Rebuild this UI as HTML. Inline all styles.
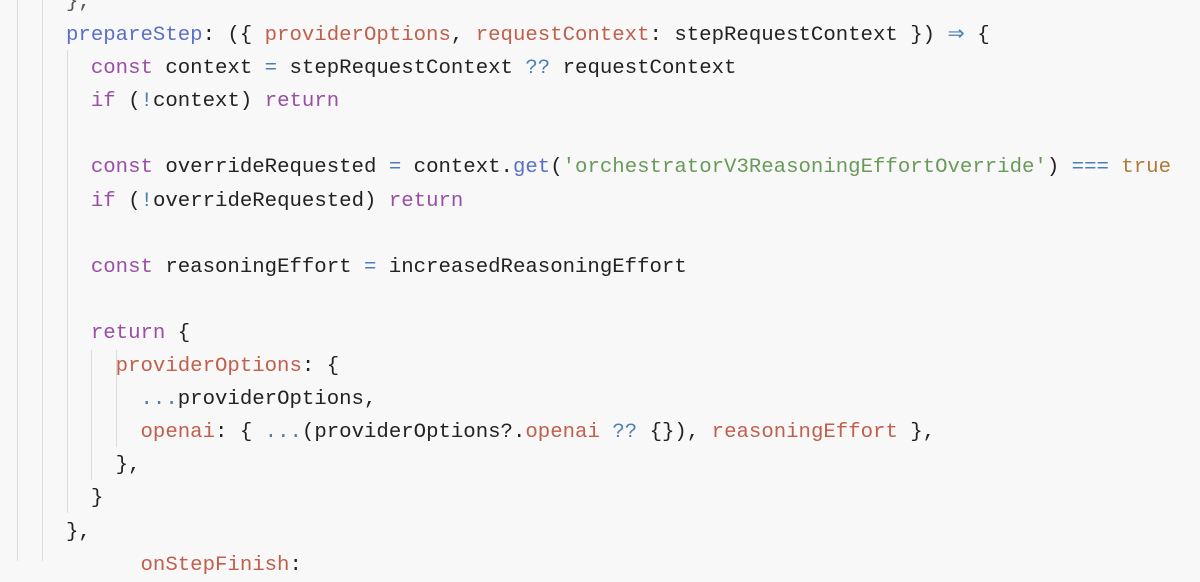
<!DOCTYPE html>
<html><head><meta charset="utf-8"><style>
html,body{margin:0;padding:0;}
body{width:1200px;height:561px;overflow:hidden;background:#f8f8f8;position:relative;}
.g{position:absolute;width:1px;background:#dcdcdc;}
pre{position:absolute;left:66px;top:-14px;margin:0;font-family:"Liberation Mono",monospace;font-size:20.7px;line-height:33.1px;color:#222;white-space:pre;}
.k{color:#5a70c8}.r{color:#c0604c}.p{color:#9a4fa6}.o{color:#4a7fb5}.s{color:#6a9a5a}.t{color:#b07a38}.d{color:#555}
</style></head><body>
<div class="g" style="left:17px;top:0;height:561px"></div>
<div class="g" style="left:42px;top:0;height:561px"></div>
<div class="g" style="left:67px;top:50px;height:463px"></div>
<div class="g" style="left:91px;top:350px;height:130px"></div>
<div class="g" style="left:116px;top:350px;height:97px"></div>
<pre><span class="d">},</span>
<span class="k">prepareStep</span>: ({ <span class="r">providerOptions</span>, <span class="r">requestContext</span>: stepRequestContext }) <span class="o">⇒</span> {
  <span class="p">const</span> context <span class="o">=</span> stepRequestContext <span class="o">??</span> requestContext
  <span class="p">if</span> (<span class="o">!</span>context) <span class="p">return</span>

  <span class="p">const</span> overrideRequested <span class="o">=</span> context.<span class="k">get</span>(<span class="s">'orchestratorV3ReasoningEffortOverride'</span>) <span class="o">===</span> <span class="t">true</span>
  <span class="p">if</span> (<span class="o">!</span>overrideRequested) <span class="p">return</span>

  <span class="p">const</span> reasoningEffort <span class="o">=</span> increasedReasoningEffort

  <span class="p">return</span> {
    <span class="r">providerOptions</span>: {
      <span class="o">...</span>providerOptions,
      <span class="r">openai</span>: { <span class="o">...</span>(providerOptions?.<span class="r">openai</span> <span class="o">??</span> {}), <span class="r">reasoningEffort</span> },
    },
  }
},
      <span class="r">onStepFinish</span>:</pre>
</body></html>
